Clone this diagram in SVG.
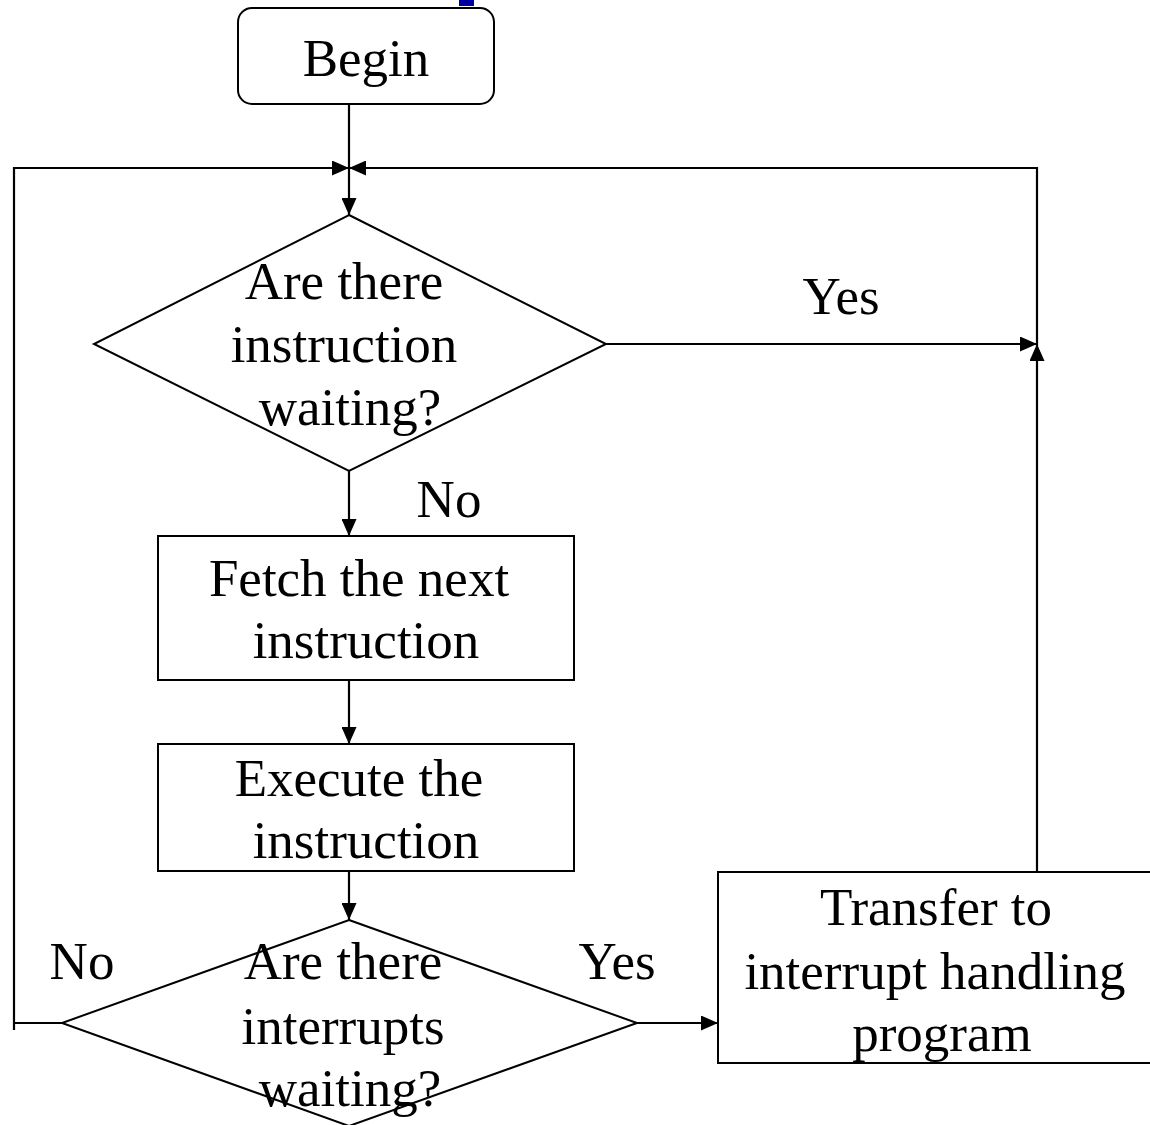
<svg xmlns="http://www.w3.org/2000/svg" width="1150" height="1125" viewBox="0 0 1150 1125">
<defs>
<marker id="arr" markerUnits="userSpaceOnUse" markerWidth="17" markerHeight="15" refX="17" refY="7.5" orient="auto">
<path d="M0,0 L17,7.5 L0,15 Z" fill="#000"/>
</marker>
<style>
.s{fill:#fff;stroke:#000;stroke-width:2}
.c{fill:none;stroke:#000;stroke-width:2.2}
text{font-family:"Liberation Serif","Times New Roman",serif;font-size:53px;fill:#000;text-anchor:middle}
</style>
</defs>
<rect x="459" y="0" width="15" height="6" fill="#0000a0"/>
<g id="begin">
<rect class="s" x="238" y="8" width="256" height="96" rx="14"/>
<text x="366" y="76">Begin</text>
</g>
<g id="decision1">
<polygon class="s" points="349,215 606,344 349,471 94,344"/>
<text x="344" y="299">Are there</text>
<text x="344" y="362">instruction</text>
<text x="350" y="425">waiting?</text>
</g>
<g id="fetch">
<rect class="s" x="158" y="536" width="416" height="144"/>
<text x="359" y="596">Fetch the next</text>
<text x="366" y="658">instruction</text>
</g>
<g id="execute">
<rect class="s" x="158" y="744" width="416" height="127"/>
<text x="359" y="796">Execute the</text>
<text x="366" y="858">instruction</text>
</g>
<g id="decision2">
<polygon class="s" points="349,920 637,1023 349,1126 62,1023"/>
<text x="343" y="979">Are there</text>
<text x="343" y="1044">interrupts</text>
<text x="350" y="1106">waiting?</text>
</g>
<g id="transfer">
<rect class="s" x="718" y="872" width="440" height="191"/>
<text x="936" y="925">Transfer to</text>
<text x="935" y="989">interrupt handling</text>
<text x="942" y="1051">program</text>
</g>
<g id="connectors">
<line class="c" x1="349" y1="104" x2="349" y2="215" marker-end="url(#arr)"/>
<polyline class="c" points="14,1030 14,168 349,168" marker-end="url(#arr)"/>
<polyline class="c" points="1037,344 1037,168 349,168" marker-end="url(#arr)"/>
<line class="c" x1="606" y1="344" x2="1037" y2="344" marker-end="url(#arr)"/>
<line class="c" x1="1037" y1="872" x2="1037" y2="344" marker-end="url(#arr)"/>
<line class="c" x1="349" y1="471" x2="349" y2="536" marker-end="url(#arr)"/>
<line class="c" x1="349" y1="680" x2="349" y2="744" marker-end="url(#arr)"/>
<line class="c" x1="349" y1="871" x2="349" y2="920" marker-end="url(#arr)"/>
<line class="c" x1="14" y1="1023" x2="62" y2="1023"/>
<line class="c" x1="637" y1="1023" x2="718" y2="1023" marker-end="url(#arr)"/>
</g>
<g id="labels">
<text x="841" y="314">Yes</text>
<text x="449" y="517">No</text>
<text x="82" y="979">No</text>
<text x="617" y="979">Yes</text>
</g>
</svg>
